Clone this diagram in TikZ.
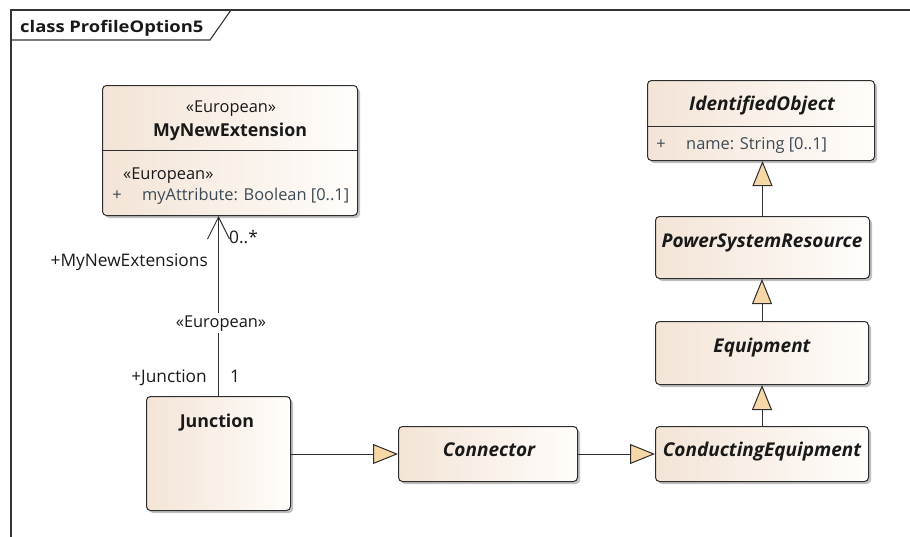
\documentclass[tikz,border=0pt]{standalone}
\usepackage{fontspec}
\setmainfont{Open Sans}
\usetikzlibrary{arrows.meta,shadows}
\definecolor{boxleft}{HTML}{F3E4D6}
\definecolor{boxright}{HTML}{FFFDFB}
\definecolor{boxline}{HTML}{2E2E2E}
\definecolor{genfill}{HTML}{F7D7A6}
\definecolor{attrtext}{HTML}{3C4A56}
\definecolor{frameline}{HTML}{333333}
% font sizes
\newcommand{\fstereo}{\fontsize{16.4}{19}\selectfont}
\newcommand{\frole}{\fontsize{17.3}{20}\selectfont}
\newcommand{\fattr}{\fontsize{16.4}{19}\selectfont}
\newcommand{\fname}{\fontsize{17.8}{20}\selectfont\bfseries}
\newcommand{\fabstract}{\fontsize{19}{22}\selectfont\bfseries\itshape}
\newcommand{\ftitle}{\fontsize{16}{19}\selectfont\bfseries\addfontfeature{FakeStretch=1.15}}
\tikzset{
  classbox/.style={draw=boxline, line width=1pt, rounded corners=4pt,
    left color=boxleft, right color=boxright, shading angle=90,
    drop shadow={shadow xshift=2.5pt, shadow yshift=-2.5pt, fill=black!45, opacity=.55},
    anchor=north west, inner sep=0pt},
  txt/.style={inner sep=0pt, text=black!90, anchor=base},
  attr/.style={txt, text=attrtext},
  gen/.style={line width=1pt, draw=boxline,
    -{Triangle[length=25pt,width=20pt,fill=genfill,line width=1pt]}},
  assoc/.style={line width=1pt, draw=boxline,
    -{Straight Barb[length=22pt,width=22pt,line width=1pt]}},
  divider/.style={line width=1pt, draw=boxline},
}
\begin{document}
\begin{tikzpicture}[x=1pt,y=-1pt]
\useasboundingbox (0,0) rectangle (910,536);
% diagram frame and name tab
\draw[frameline, line width=1.3pt] (11,540) -- (11,10) -- (915,10);
\draw[frameline, line width=1.1pt] (11,40) -- (210,40) -- (231,10);
\node[txt, anchor=base west, font=\ftitle] (title) at (20,32) {class ProfileOption5};

% classes
\node[classbox, minimum width=255pt, minimum height=130pt] (ext) at (102,85) {};
\node[classbox, minimum width=144pt, minimum height=114pt] (junction) at (146,396) {};
\node[classbox, minimum width=179pt, minimum height=55pt] (connector) at (398,426) {};
\node[classbox, minimum width=213pt, minimum height=55pt] (ce) at (655,426) {};
\node[classbox, minimum width=213pt, minimum height=63pt] (equip) at (655,321) {};
\node[classbox, minimum width=214pt, minimum height=62pt] (psr) at (655,216) {};
\node[classbox, minimum width=227pt, minimum height=80pt] (io) at (647,80) {};

% compartment dividers
\draw[divider] (ext.west |- 0,150) -- (ext.east |- 0,150);
\draw[divider] (io.west |- 0,126) -- (io.east |- 0,126);

% class texts
\node[txt, font=\fstereo] (extst) at (231,112) {«European»};
\node[txt, font=\fname] (extname) at (230,136) {MyNewExtension};
\node[txt, anchor=base west, font=\fstereo] (attrst) at (123,179) {«European»};
\node[attr, font=\fattr] (attrvis) at (117,200) {+};
\node[attr, anchor=base west, font=\fattr] (attrname) at (142,200) {myAttribute: Boolean [0..1]};

\node[txt, font=\fname] (junctionname) at (217,427) {Junction};
\node[txt, font=\fabstract] (connectorname) at (489,456) {Connector};
\node[txt, font=\fabstract] (cename) at (762,456) {ConductingEquipment};
\node[txt, font=\fabstract] (equipname) at (762,352) {Equipment};
\node[txt, font=\fabstract] (psrname) at (762,247) {PowerSystemResource};
\node[txt, font=\fabstract] (ioname) at (762,110) {IdentifiedObject};
\node[attr, font=\fattr] (iovis) at (661,149) {+};
\node[attr, anchor=base west, font=\fattr] (ioattr) at (686,149) {name: String [0..1]};

% association Junction -> MyNewExtension
\draw[assoc] (junction.north) -- (junction.north |- ext.south);
\node[txt, font=\fstereo, fill=white, inner sep=2pt] (assocst) at (221,327) {«European»};
\node[txt, anchor=base west, font=\frole] (mult1) at (229,243) {0..*};
\node[txt, anchor=base east, font=\frole] (role1) at (208,266) {+MyNewExtensions};
\node[txt, anchor=base east, font=\frole] (role2) at (207,382) {+Junction};
\node[txt, font=\frole] (mult2) at (235,382) {1};

% generalizations
\draw[gen] (junction.east |- connector.west) -- (connector.west);
\draw[gen] (connector.east) -- (ce.west);
\draw[gen] (ce.north) -- (ce.north |- equip.south);
\draw[gen] (equip.north) -- (equip.north |- psr.south);
\draw[gen] (psr.north) -- (psr.north |- io.south);
\end{tikzpicture}
\end{document}
